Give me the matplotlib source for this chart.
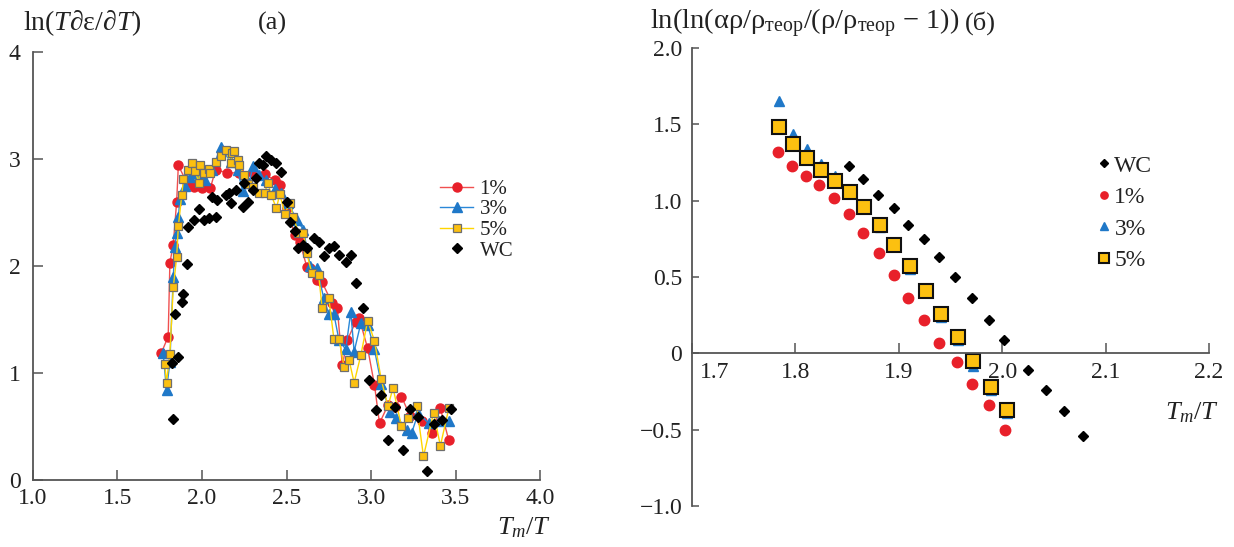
import matplotlib
matplotlib.use('Agg')
import matplotlib.pyplot as plt

plt.rcParams['font.family'] = ['Liberation Serif', 'DejaVu Serif']
plt.rcParams['mathtext.fontset'] = 'custom'
plt.rcParams['mathtext.rm'] = 'Liberation Serif'
plt.rcParams['mathtext.it'] = 'Liberation Serif:italic'
plt.rcParams['mathtext.bf'] = 'Liberation Serif:bold'

# ---- panel (a): ln(T de/dT) vs Tm/T ----
a_x_1 = [1.76, 1.80, 1.81, 1.83, 1.85, 1.86, 1.91, 1.95, 2.00, 2.05, 2.08, 2.15, 2.22, 2.30,
         2.37, 2.43, 2.46, 2.50, 2.55, 2.58, 2.62, 2.64, 2.68, 2.71, 2.77, 2.80, 2.83, 2.86,
         2.91, 2.93, 2.98, 3.02, 3.05, 3.10, 3.14, 3.18, 3.23, 3.30, 3.36, 3.41, 3.46]
a_y_1 = [1.19, 1.34, 2.03, 2.20, 2.60, 2.94, 2.78, 2.74, 2.73, 2.73, 2.90, 2.87, 2.87, 2.87,
         2.86, 2.80, 2.76, 2.54, 2.29, 2.22, 1.99, 1.98, 1.87, 1.85, 1.65, 1.61, 1.07, 1.31,
         1.48, 1.51, 1.23, 0.89, 0.53, 0.70, 0.68, 0.78, 0.60, 0.55, 0.44, 0.67, 0.37]

a_x_3 = [1.77, 1.79, 1.81, 1.83, 1.84, 1.85, 1.86, 1.87, 1.90, 1.93, 1.97, 2.02, 2.06, 2.11,
         2.17, 2.21, 2.24, 2.28, 2.30, 2.34, 2.38, 2.43, 2.47, 2.51, 2.56, 2.60, 2.64, 2.68,
         2.72, 2.75, 2.78, 2.81, 2.85, 2.88, 2.90, 2.94, 2.98, 3.02, 3.06, 3.11, 3.15, 3.21,
         3.24, 3.28, 3.34, 3.40, 3.46]
a_y_3 = [1.19, 0.84, 1.10, 1.90, 2.18, 2.31, 2.46, 2.63, 2.75, 2.83, 2.87, 2.80, 2.90, 3.11,
         2.97, 2.90, 2.70, 2.78, 2.93, 2.85, 2.80, 2.72, 2.68, 2.59, 2.43, 2.34, 2.00, 1.98,
         1.70, 1.55, 1.55, 1.31, 1.22, 1.57, 1.20, 1.47, 1.45, 1.22, 0.90, 0.64, 0.58, 0.47,
         0.44, 0.63, 0.53, 0.55, 0.55]

a_x_5 = [1.78, 1.79, 1.81, 1.83, 1.85, 1.86, 1.88, 1.89, 1.92, 1.94, 1.96, 1.98, 1.99, 2.01,
         2.04, 2.05, 2.08, 2.11, 2.14, 2.17, 2.18, 2.19, 2.21, 2.22, 2.25, 2.27, 2.30, 2.34,
         2.37, 2.39, 2.41, 2.44, 2.46, 2.49, 2.52, 2.54, 2.57, 2.60, 2.62, 2.65, 2.69, 2.71,
         2.75, 2.78, 2.81, 2.84, 2.87, 2.90, 2.94, 2.98, 3.02, 3.06, 3.10, 3.13, 3.18, 3.22,
         3.27, 3.31, 3.37, 3.41, 3.46]
a_y_5 = [1.08, 0.91, 1.18, 1.80, 2.08, 2.37, 2.66, 2.81, 2.90, 2.96, 2.89, 2.78, 2.94, 2.87,
         2.91, 2.87, 2.97, 3.03, 3.08, 2.96, 3.06, 3.07, 2.99, 2.94, 2.85, 2.77, 2.74, 2.68,
         2.68, 2.78, 2.66, 2.54, 2.67, 2.49, 2.59, 2.46, 2.31, 2.31, 2.12, 1.93, 1.92, 1.61,
         1.70, 1.32, 1.32, 1.06, 1.12, 0.91, 1.17, 1.49, 1.30, 0.94, 0.69, 0.86, 0.50, 0.58,
         0.69, 0.22, 0.63, 0.32, 0.67]

a_x_wc = [1.83, 1.82, 1.86, 1.84, 1.88, 1.89, 1.91, 1.92, 1.95, 1.98, 2.01, 2.04, 2.06, 2.08,
          2.09, 2.14, 2.16, 2.17, 2.20, 2.24, 2.25, 2.27, 2.30, 2.32, 2.34, 2.36, 2.38, 2.41,
          2.44, 2.47, 2.50, 2.52, 2.55, 2.57, 2.60, 2.62, 2.66, 2.69, 2.72, 2.75, 2.78, 2.81,
          2.85, 2.88, 2.91, 2.95, 2.99, 3.03, 3.06, 3.10, 3.14, 3.19, 3.23, 3.28, 3.33, 3.37,
          3.42, 3.47]
a_y_wc = [0.57, 1.09, 1.15, 1.55, 1.66, 1.74, 2.02, 2.36, 2.43, 2.53, 2.43, 2.45, 2.64, 2.46,
          2.62, 2.66, 2.68, 2.59, 2.71, 2.55, 2.78, 2.60, 2.71, 2.82, 2.96, 2.94, 3.03, 2.99,
          2.96, 2.88, 2.60, 2.41, 2.33, 2.17, 2.20, 2.17, 2.26, 2.22, 2.09, 2.17, 2.19, 2.10,
          2.04, 2.10, 1.84, 1.61, 0.93, 0.65, 0.79, 0.37, 0.68, 0.28, 0.66, 0.59, 0.08, 0.52,
          0.56, 0.66]

a_xticks = [1.0, 1.5, 2.0, 2.5, 3.0, 3.5, 4.0]
a_xlabels = ['1.0', '1.5', '2.0', '2.5', '3.0', '3.5', '4.0']
a_yticks = [0, 1, 2, 3, 4]
a_ylabels = ['0', '1', '2', '3', '4']

# ---- panel (b) ----
b_x_wc = [1.852, 1.865, 1.880, 1.895, 1.909, 1.924, 1.939, 1.954, 1.971, 1.987, 2.002,
          2.025, 2.042, 2.060, 2.078]
b_y_wc = [1.23, 1.14, 1.04, 0.95, 0.84, 0.75, 0.63, 0.50, 0.36, 0.22, 0.085,
          -0.11, -0.24, -0.38, -0.54]

b_x_1 = [1.783, 1.797, 1.810, 1.823, 1.837, 1.852, 1.865, 1.881, 1.895, 1.909, 1.924,
         1.939, 1.956, 1.971, 1.987, 2.003]
b_y_1 = [1.32, 1.23, 1.16, 1.10, 1.02, 0.91, 0.79, 0.66, 0.51, 0.36, 0.22,
         0.07, -0.06, -0.20, -0.34, -0.50]

b_x_3 = [1.784, 1.798, 1.811, 1.825, 1.838, 1.853, 1.866, 1.882, 1.895, 1.911, 1.926,
         1.941, 1.957, 1.972, 1.989, 2.005]
b_y_3 = [1.65, 1.44, 1.34, 1.24, 1.16, 1.07, 0.96, 0.83, 0.70, 0.55, 0.40,
         0.24, 0.09, -0.08, -0.24, -0.39]

b_x_5 = [1.784, 1.798, 1.811, 1.825, 1.838, 1.853, 1.866, 1.882, 1.895, 1.911, 1.926,
         1.941, 1.957, 1.972, 1.989, 2.005]
b_y_5 = [1.48, 1.37, 1.28, 1.20, 1.13, 1.06, 0.96, 0.84, 0.71, 0.57, 0.41,
         0.26, 0.11, -0.05, -0.22, -0.37]

b_xticks = [1.7, 1.8, 1.9, 2.0, 2.1, 2.2]
b_xlabels = ['', '1.8', '1.9', '2.0', '2.1', '2.2']
b_yticks = [-1.0, -0.5, 0, 0.5, 1.0, 1.5, 2.0]
b_ylabels = ['\u22121.0', '\u22120.5', '0', '0.5', '1.0', '1.5', '2.0']

RED = '#e8202a'
BLUE = '#1f78c8'
GOLD = '#fcc010'
TXT = '#222222'
SPINE = '#555555'

fig = plt.figure(figsize=(12.34, 5.47), dpi=100)

# ---------- left ----------
ax1 = fig.add_axes([0.0267, 0.1225, 0.411, 0.7825])
ax1.plot(a_x_1, a_y_1, '-o', color='#f05050', mfc=RED, mec=RED, ms=6.5, lw=1.0, label='1%')
ax1.plot(a_x_3, a_y_3, '-^', color='#2a88d8', mfc=BLUE, mec=BLUE, ms=6.5, lw=1.0, label='3%')
ax1.plot(a_x_5, a_y_5, '-s', color='#ffd500', mfc=GOLD, mec='#6e6e6e', mew=0.9, ms=6,
         lw=1.0, label='5%')
ax1.plot(a_x_wc, a_y_wc, 'D', color='black', ms=5.3, lw=0, label='WC')

ax1.set_xlim(1.0, 4.0)
ax1.set_ylim(0, 4)
ax1.set_xticks(a_xticks, a_xlabels)
ax1.set_yticks(a_yticks, a_ylabels)
ax1.spines['top'].set_visible(False)
ax1.spines['right'].set_visible(False)
for s in ['left', 'bottom']:
    ax1.spines[s].set_color(SPINE)
    ax1.spines[s].set_linewidth(1.3)
ax1.tick_params(axis='both', direction='in', length=7, width=1.1, color=SPINE,
                labelsize=17, labelcolor=TXT)
ax1.tick_params(axis='y', pad=9)
ax1.tick_params(axis='x', pad=6)
ax1.legend(loc='upper left', bbox_to_anchor=(0.782, 0.727), frameon=False, fontsize=15,
           handlelength=1.6, handletextpad=0.3, labelspacing=0.05, borderpad=0,
           labelcolor=TXT)

fig.text(0.403, 0.035, '$T_m/T$', fontsize=19, color=TXT, ha='left', va='center')
fig.text(0.019, 0.958, 'ln($T$\u2202\u03b5/\u2202$T$)', fontsize=20, color=TXT,
         ha='left', va='center')
fig.text(0.209, 0.958, '(a)', fontsize=19, color=TXT, ha='left', va='center')

# ---------- right ----------
ax2 = fig.add_axes([0.5608, 0.075, 0.4189, 0.8372])
ax2.plot(b_x_wc, b_y_wc, 'D', color='black', ms=5.5, lw=0, label='WC')
ax2.plot(b_x_1, b_y_1, 'o', color=RED, ms=7.5, lw=0, label='1%')
ax2.plot(b_x_3, b_y_3, '^', color=BLUE, ms=7.5, lw=0, label='3%')
ax2.plot(b_x_5, b_y_5, 's', mfc=GOLD, mec='#111111', mew=1.5, ms=10.5, lw=0, label='5%')

ax2.set_xlim(1.7, 2.2)
ax2.set_ylim(-1.0, 2.0)
ax2.set_xticks(b_xticks, b_xlabels)
ax2.set_yticks(b_yticks, b_ylabels)
ax2.spines['top'].set_visible(False)
ax2.spines['right'].set_visible(False)
ax2.spines['bottom'].set_position(('data', 0))
for s in ['left', 'bottom']:
    ax2.spines[s].set_color(SPINE)
    ax2.spines[s].set_linewidth(1.3)
ax2.tick_params(axis='both', direction='in', width=1.1, color=SPINE,
                labelsize=17, labelcolor=TXT)
ax2.tick_params(axis='y', length=5, pad=7)
ax2.tick_params(axis='x', length=7, pad=6)
ax2.annotate('1.7', xy=(1.7, 0), xytext=(6, -6.5), textcoords='offset points',
             ha='left', va='top', fontsize=17, color=TXT)

ax2.legend(loc='upper left', bbox_to_anchor=(0.76, 0.792), frameon=False, fontsize=17,
           handlelength=0.6, handletextpad=0.15, labelspacing=0.42, borderpad=0,
           labelcolor=TXT, markerscale=0.7)

fig.text(0.944, 0.245, '$T_m/T$', fontsize=19, color=TXT, ha='left', va='center')
fig.text(0.527, 0.958,
         'ln(ln(\u03b1\u03c1/\u03c1$_{\\mathrm{\u0442\u0435\u043e\u0440}}$/'
         '(\u03c1/\u03c1$_{\\mathrm{\u0442\u0435\u043e\u0440}}$ \u2212 1))',
         fontsize=20.5, color=TXT, ha='left', va='center')
fig.text(0.782, 0.958, '(\u0431)', fontsize=19, color=TXT, ha='left', va='center')

fig.savefig('out.png', dpi=100)
